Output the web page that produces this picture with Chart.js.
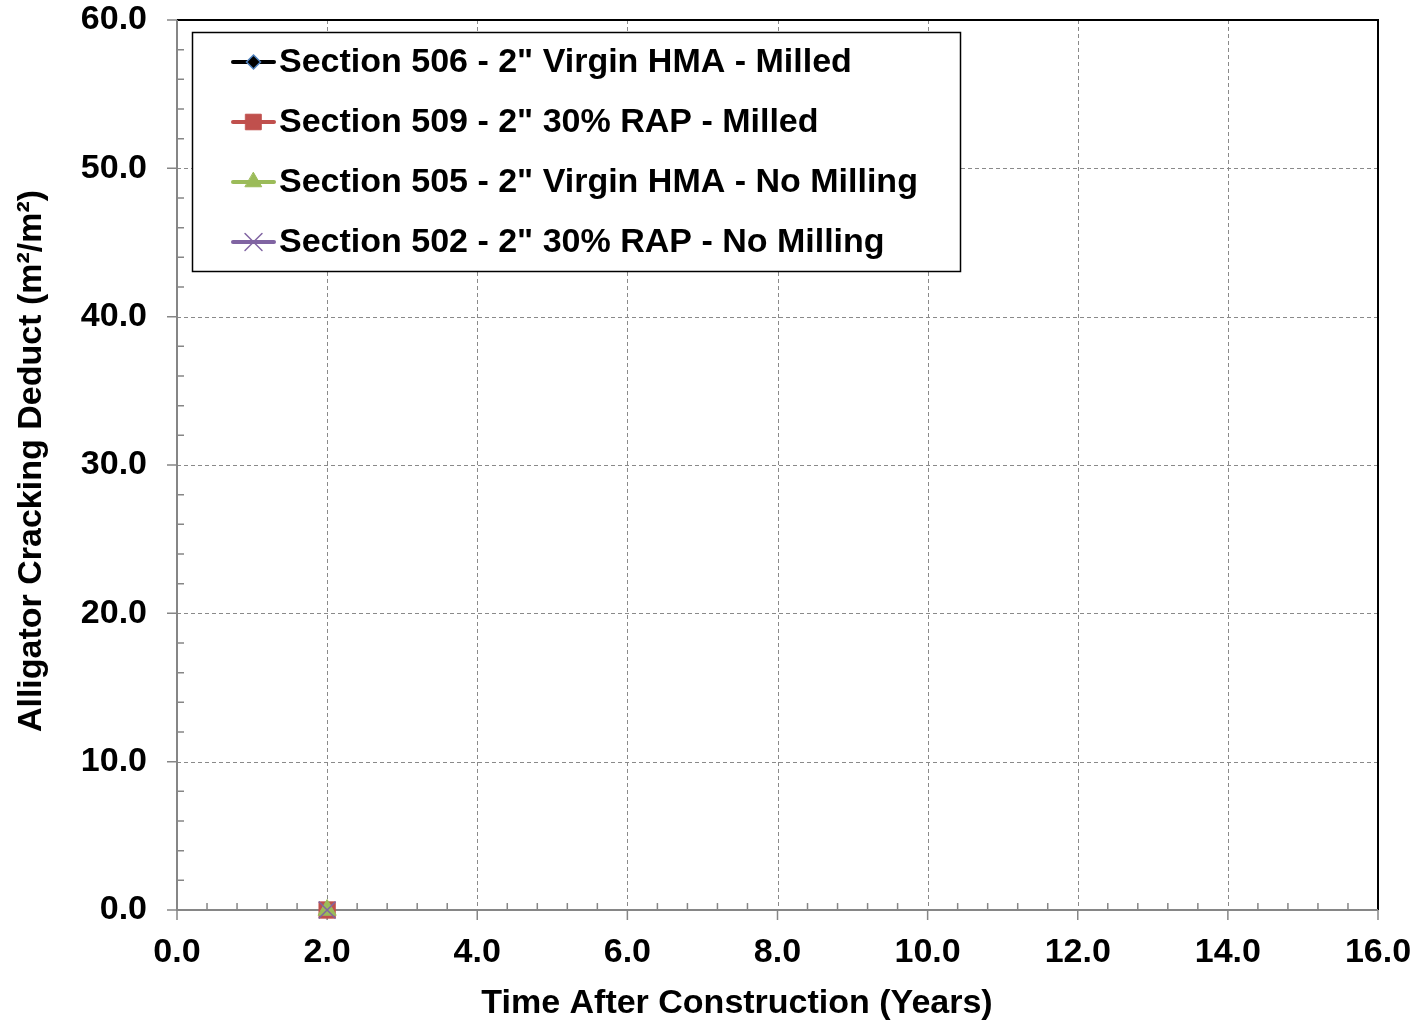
<!DOCTYPE html>
<html>
<head>
<meta charset="utf-8">
<title>Alligator Cracking Deduct</title>
<script src="https://cdn.jsdelivr.net/npm/chart.js@4/dist/chart.umd.min.js"></script>
<style>
  html, body { margin: 0; padding: 0; background: #ffffff; }
  #wrap { width: 1424px; height: 1023px; position: relative; }
</style>
</head>
<body>
<div id="wrap"><canvas id="chart" width="1424" height="1023"></canvas></div>
<script>
// Survey results: years after construction vs. alligator cracking deduct (m²/m²)
const seriesNames = [
  'Section 506 - 2" Virgin HMA - Milled',
  'Section 509 - 2" 30% RAP - Milled',
  'Section 505 - 2" Virgin HMA - No Milling',
  'Section 502 - 2" 30% RAP - No Milling'
];
const years506 = [2.0];
const deduct506 = [0.0];
const years509 = [2.0];
const deduct509 = [0.0];
const years505 = [2.0];
const deduct505 = [0.0];
const years502 = [2.0];
const deduct502 = [0.0];

const xTickValues = [0, 2, 4, 6, 8, 10, 12, 14, 16];
const yTickValues = [0, 10, 20, 30, 40, 50, 60];
const xAxisTitle = 'Time After Construction (Years)';
const yAxisTitle = 'Alligator Cracking Deduct (m²/m²)';

const FONT = "'Liberation Sans', Arial, Helvetica, sans-serif";
const FONT_SIZE = 34;
const AXIS_GREY = '#868686';

function toPoints(xs, ys) {
  return xs.map((x, i) => ({ x: x, y: ys[i] }));
}

// Series styling (marker + line) shared by the plot and the legend
const styles = [
  { line: '#000000', fill: '#000000', edge: '#4F81BD', pointStyle: 'rectRot', radius: 7, edgeWidth: 1.5 },
  { line: '#C0504D', fill: '#C0504D', edge: '#C0504D', pointStyle: 'rect', radius: 11.5, edgeWidth: 1 },
  { line: '#9BBB59', fill: '#9BBB59', edge: '#9BBB59', pointStyle: 'triangle', radius: 10.5, edgeWidth: 1 },
  { line: '#8064A2', fill: '#8064A2', edge: '#8064A2', pointStyle: 'crossRot', radius: 12, edgeWidth: 1.5 }
];

const seriesData = [
  toPoints(years506, deduct506),
  toPoints(years509, deduct509),
  toPoints(years505, deduct505),
  toPoints(years502, deduct502)
];

const datasets = seriesData.map((pts, i) => ({
  label: seriesNames[i],
  data: pts,
  showLine: true,
  borderColor: styles[i].line,
  borderWidth: 4,
  backgroundColor: styles[i].fill,
  pointStyle: styles[i].pointStyle,
  pointRadius: styles[i].radius,
  pointBorderColor: styles[i].edge,
  pointBackgroundColor: styles[i].fill,
  pointBorderWidth: styles[i].edgeWidth,
  clip: false,
  order: 3 - i
}));

// Dashed grid, axis lines, major/minor tick marks and the plot frame
const frameAndGrid = {
  id: 'frameAndGrid',
  beforeDatasetsDraw(chart) {
    const { ctx, chartArea: a, scales: { x, y } } = chart;
    ctx.save();
    // dashed major gridlines
    ctx.strokeStyle = '#8a8a8a';
    ctx.lineWidth = 1;
    ctx.setLineDash([4, 3]);
    xTickValues.forEach(v => {
      const px = Math.round(x.getPixelForValue(v)) + 0.5;
      if (px <= a.left + 1 || px >= a.right - 1) return;
      ctx.beginPath(); ctx.moveTo(px, a.top); ctx.lineTo(px, a.bottom); ctx.stroke();
    });
    yTickValues.forEach(v => {
      const py = Math.round(y.getPixelForValue(v)) + 0.5;
      if (py <= a.top + 1 || py >= a.bottom - 1) return;
      ctx.beginPath(); ctx.moveTo(a.left, py); ctx.lineTo(a.right, py); ctx.stroke();
    });
    ctx.setLineDash([]);

    // top and right frame
    ctx.strokeStyle = '#000000';
    ctx.lineWidth = 2;
    ctx.beginPath();
    ctx.moveTo(a.left, a.top);
    ctx.lineTo(a.right, a.top);
    ctx.lineTo(a.right, a.bottom);
    ctx.stroke();

    // axis lines
    ctx.strokeStyle = AXIS_GREY;
    ctx.lineWidth = 2;
    ctx.beginPath();
    ctx.moveTo(a.left, a.top); ctx.lineTo(a.left, a.bottom + 1);
    ctx.moveTo(a.left - 1, a.bottom); ctx.lineTo(a.right, a.bottom);
    ctx.stroke();

    // major ticks (outside), minor ticks (inside)
    ctx.lineWidth = 1.5;
    ctx.beginPath();
    for (let v = 0; v <= 16.0001; v += 0.4) {
      const px = x.getPixelForValue(v);
      const major = Math.abs(v / 2 - Math.round(v / 2)) < 1e-6;
      if (major) { ctx.moveTo(px, a.bottom); ctx.lineTo(px, a.bottom + 10); }
      else { ctx.moveTo(px, a.bottom); ctx.lineTo(px, a.bottom - 7); }
    }
    for (let v = 0; v <= 60.0001; v += 2) {
      const py = y.getPixelForValue(v);
      const major = Math.abs(v / 10 - Math.round(v / 10)) < 1e-6;
      if (major) { ctx.moveTo(a.left - 10, py); ctx.lineTo(a.left, py); }
      else { ctx.moveTo(a.left, py); ctx.lineTo(a.left + 7, py); }
    }
    ctx.stroke();
    ctx.restore();
  }
};

// Axis titles placed relative to the page rather than the plot centre
const axisTitles = {
  id: 'axisTitles',
  afterDraw(chart) {
    const { ctx } = chart;
    ctx.save();
    ctx.fillStyle = '#000000';
    ctx.font = 'bold ' + FONT_SIZE + 'px ' + FONT;
    ctx.textAlign = 'center';
    ctx.textBaseline = 'middle';
    ctx.fillText(xAxisTitle, 737, 1004);
    ctx.translate(32, 461);
    ctx.rotate(-Math.PI / 2);
    ctx.fillText(yAxisTitle, 0, 0);
    ctx.restore();
  }
};

function drawMarker(ctx, st, cx, cy) {
  const r = st.radius;
  ctx.save();
  ctx.fillStyle = st.fill;
  ctx.strokeStyle = st.edge;
  ctx.lineWidth = st.edgeWidth;
  ctx.beginPath();
  if (st.pointStyle === 'rectRot') {
    ctx.moveTo(cx, cy - r); ctx.lineTo(cx + r, cy); ctx.lineTo(cx, cy + r); ctx.lineTo(cx - r, cy); ctx.closePath();
    ctx.fill(); ctx.stroke();
  } else if (st.pointStyle === 'rect') {
    const s = r * Math.SQRT1_2;
    ctx.rect(cx - s, cy - s, 2 * s, 2 * s);
    ctx.fill(); ctx.stroke();
  } else if (st.pointStyle === 'triangle') {
    ctx.moveTo(cx, cy - r);
    ctx.lineTo(cx + r * 0.866, cy + r * 0.5);
    ctx.lineTo(cx - r * 0.866, cy + r * 0.5);
    ctx.closePath();
    ctx.fill(); ctx.stroke();
  } else if (st.pointStyle === 'crossRot') {
    const s = r * Math.SQRT1_2;
    ctx.moveTo(cx - s, cy - s); ctx.lineTo(cx + s, cy + s);
    ctx.moveTo(cx + s, cy - s); ctx.lineTo(cx - s, cy + s);
    ctx.stroke();
  }
  ctx.restore();
}

// Boxed legend inside the plot area, top-left
const boxedLegend = {
  id: 'boxedLegend',
  afterDatasetsDraw(chart) {
    const { ctx } = chart;
    const box = { left: 192, top: 32, right: 960, bottom: 271 };
    ctx.save();
    ctx.fillStyle = '#ffffff';
    ctx.fillRect(box.left, box.top, box.right - box.left, box.bottom - box.top);
    ctx.strokeStyle = '#000000';
    ctx.lineWidth = 1.5;
    ctx.strokeRect(box.left + 0.5, box.top + 0.5, box.right - box.left, box.bottom - box.top);

    ctx.font = 'bold ' + FONT_SIZE + 'px ' + FONT;
    ctx.textBaseline = 'middle';
    ctx.textAlign = 'left';
    const legendRadius = [7, 11, 9.5, 12];
    seriesNames.forEach((name, i) => {
      const st = styles[i];
      const cy = 62 + i * 60;
      ctx.strokeStyle = st.line;
      ctx.lineWidth = 4;
      ctx.lineCap = 'round';
      ctx.beginPath(); ctx.moveTo(233, cy); ctx.lineTo(274, cy); ctx.stroke();
      const legendStyle = Object.assign({}, st, { radius: legendRadius[i] });
      drawMarker(ctx, legendStyle, 253.5, cy);
      ctx.fillStyle = '#000000';
      ctx.fillText(name, 279, cy + 1);
    });
    ctx.restore();
  }
};

new Chart(document.getElementById('chart'), {
  type: 'scatter',
  data: { datasets: datasets },
  options: {
    responsive: false,
    animation: false,
    events: [],
    layout: { padding: { left: 0, top: 20, right: 46, bottom: 0 } },
    plugins: { legend: { display: false }, tooltip: { enabled: false } },
    scales: {
      x: {
        type: 'linear',
        min: 0, max: 16,
        afterFit(scale) {
          scale.height = 113;
          scale.paddingLeft = 0; scale.paddingRight = 0;
        },
        afterBuildTicks(scale) { scale.ticks = xTickValues.map(v => ({ value: v })); },
        grid: { display: false, drawTicks: false },
        border: { display: false },
        ticks: {
          padding: 22,
          color: '#000000',
          font: { family: FONT, size: FONT_SIZE, weight: 'bold' },
          maxRotation: 0,
          autoSkip: false,
          callback: v => Number(v).toFixed(1)
        }
      },
      y: {
        type: 'linear',
        min: 0, max: 60,
        afterFit(scale) {
          scale.width = 177;
          scale.paddingTop = 0; scale.paddingBottom = 0;
        },
        afterBuildTicks(scale) { scale.ticks = yTickValues.map(v => ({ value: v })); },
        grid: { display: false, drawTicks: false },
        border: { display: false },
        ticks: {
          padding: 30,
          color: '#000000',
          font: { family: FONT, size: FONT_SIZE, weight: 'bold' },
          autoSkip: false,
          callback: v => Number(v).toFixed(1)
        }
      }
    }
  },
  plugins: [frameAndGrid, boxedLegend, axisTitles]
});
</script>
</body>
</html>
